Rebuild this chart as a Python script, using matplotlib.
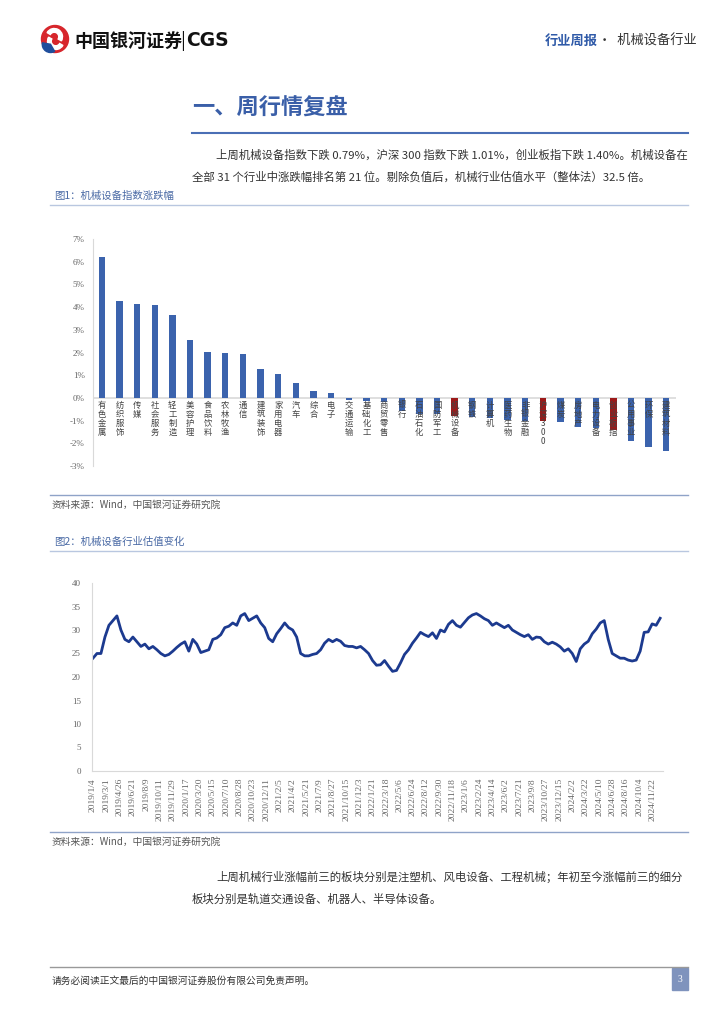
import numpy as np
import matplotlib
matplotlib.use('Agg')
import matplotlib.pyplot as plt
from matplotlib.patches import Rectangle, Circle, Wedge

plt.rcParams['font.family'] = ['Noto Sans CJK SC', 'DejaVu Sans']

# 图1 数据：申万一级行业 + 指数 周涨跌幅（%）
industries = ['有色金属', '纺织服饰', '传媒', '社会服务', '轻工制造', '美容护理', '食品饮料',
              '农林牧渔', '通信', '建筑装饰', '家用电器', '汽车', '综合', '电子', '交通运输',
              '基础化工', '商贸零售', '银行', '石油石化', '国防军工', '机械设备', '钢铁',
              '计算机', '医药生物', '非银金融', '沪深300', '煤炭', '房地产', '电力设备',
              '创业板指', '公用事业', '环保', '建筑材料']
weekly_chg = [6.19, 4.25, 4.13, 4.10, 3.63, 2.55, 2.02, 1.99, 1.92, 1.26, 1.07, 0.66, 0.31,
              0.22, -0.10, -0.12, -0.18, -0.59, -0.70, -0.73, -0.79, -0.85, -0.88, -0.97,
              -1.00, -1.01, -1.06, -1.27, -1.32, -1.40, -1.88, -2.17, -2.32]
highlight = ['机械设备', '沪深300', '创业板指']

# 图2 数据：机械设备行业 PE（整体法），按周
pe_values = [24.0, 25.0, 25.0, 28.5, 31.0, 32.0, 33.0, 30.0, 28.0, 27.5, 28.5, 27.5, 26.5,
             27.0, 26.0, 26.5, 25.8, 25.0, 24.5, 24.8, 25.5, 26.3, 27.0, 27.5, 25.5, 28.0,
             27.0, 25.2, 25.5, 25.8, 28.0, 28.3, 29.0, 30.5, 30.8, 31.5, 31.0, 33.0, 33.5,
             32.0, 32.5, 33.0, 31.5, 30.5, 28.2, 27.5, 29.2, 30.3, 31.5, 30.5, 30.0, 28.5,
             25.0, 24.5, 24.5, 24.8, 25.0, 25.8, 27.2, 28.0, 27.5, 28.0, 27.6, 26.7, 26.5,
             26.5, 26.2, 26.5, 25.8, 25.0, 23.5, 22.5, 22.6, 23.5, 22.3, 21.2, 21.4, 23.0,
             24.8, 25.8, 27.2, 28.3, 29.5, 29.0, 28.6, 29.4, 28.2, 30.0, 29.6, 31.2, 32.0,
             31.0, 30.6, 31.6, 32.6, 33.2, 33.5, 33.0, 32.4, 32.0, 31.0, 31.5, 31.0, 30.5,
             31.0, 30.0, 29.5, 29.0, 28.6, 29.0, 28.0, 28.5, 28.4, 27.5, 27.0, 27.4, 27.0,
             26.4, 25.5, 26.0, 25.0, 23.3, 26.0, 27.0, 27.6, 29.2, 30.2, 31.5, 32.0, 28.0,
             25.0, 24.5, 24.0, 24.0, 23.6, 23.4, 23.6, 25.5, 29.5, 29.6, 31.3, 31.0, 32.5]
date_labels = ['2019/1/4', '2019/3/1', '2019/4/26', '2019/6/21', '2019/8/9', '2019/10/11',
               '2019/11/29', '2020/1/17', '2020/3/20', '2020/5/15', '2020/7/10', '2020/8/28',
               '2020/10/23', '2020/12/11', '2021/2/5', '2021/4/2', '2021/5/21', '2021/7/9',
               '2021/8/27', '2021/10/15', '2021/12/3', '2022/1/21', '2022/3/18', '2022/5/6',
               '2022/6/24', '2022/8/12', '2022/9/30', '2022/11/18', '2023/1/6', '2023/2/24',
               '2023/4/14', '2023/6/2', '2023/7/21', '2023/9/8', '2023/10/27', '2023/12/15',
               '2024/2/2', '2024/3/22', '2024/5/10', '2024/6/28', '2024/8/16', '2024/10/4',
               '2024/11/22']

W, H = 724, 1024
BLUE = '#3b63ad'
RED = '#9c1a1a'
TXT = '#333333'
GRID = '#d9d9d9'


def fx(x):
    return x / W


def fy(y):
    return 1 - y / H


fig = plt.figure(figsize=(W / 100, H / 100), dpi=100)

# ---- 页眉 ----
logo = fig.add_axes([fx(40), fy(54), fx(30), 30 / H])
logo.set_xlim(-1, 1)
logo.set_ylim(-1, 1)
logo.set_aspect('equal')
logo.axis('off')
logo.add_patch(Circle((0, 0), 0.9, color='#d7262c'))
logo.add_patch(Wedge((0.05, -0.15), 0.55, 150, 330, width=0.25, color='white'))
logo.add_patch(Wedge((-0.05, 0.15), 0.55, -30, 150, width=0.25, color='white'))
logo.add_patch(Wedge((-0.3, -0.35), 0.55, 170, 300, color='#1f4e9c'))

fig.text(fx(74), fy(41), '中国银河证券', fontsize=13, fontweight='bold', color='#111111', va='center')
fig.text(fx(180), fy(41), '|', fontsize=13, color='#111111', va='center')
fig.text(fx(186), fy(41), 'CGS', fontsize=13.5, fontweight='bold', color='#111111', va='center',
         family=['DejaVu Sans'])
fig.text(fx(545), fy(41), '行业周报', fontsize=9.5, color='#2f5aa8', va='center', fontweight='bold')
fig.text(fx(598), fy(41), '·  机械设备行业', fontsize=9.5, color='#333333', va='center')

# ---- 标题与正文 ----
fig.text(fx(192), fy(108), '一、周行情复盘', fontsize=16, fontweight='bold', color='#3a5fa8', va='center')
fig.add_artist(plt.Line2D([fx(192), fx(688)], [fy(133), fy(133)], color='#4a6fb5', lw=1.5))
fig.text(fx(216), fy(155), '上周机械设备指数下跌 0.79%，沪深 300 指数下跌 1.01%，创业板指下跌 1.40%。机械设备在',
         fontsize=8.2, color=TXT, va='center')
fig.text(fx(192), fy(177), '全部 31 个行业中涨跌幅排名第 21 位。剔除负值后，机械行业估值水平（整体法）32.5 倍。',
         fontsize=8.2, color=TXT, va='center')

# ---- 图1 ----
fig.text(fx(54), fy(196), '图1：机械设备指数涨跌幅', fontsize=7.5, color='#4a6aa5', va='center')
fig.add_artist(plt.Line2D([fx(50), fx(688)], [fy(205), fy(205)], color='#b9c7e0', lw=1))

ax1 = fig.add_axes([fx(93), fy(466), fx(676 - 93), (466 - 239) / H])
pos = np.arange(len(industries))
colors = [RED if name in highlight else BLUE for name in industries]
ax1.bar(pos, weekly_chg, width=0.36, color=colors, zorder=2)
ax1.axhline(0, color=GRID, lw=1.2, zorder=1)
ax1.set_xlim(-0.5, len(industries) - 0.45)
ax1.set_ylim(-3, 7)
ax1.set_yticks(range(-3, 8))
ax1.set_yticklabels([f'{v}%' for v in range(-3, 8)], fontsize=6.5, color='#666666',
                    family=['Liberation Serif'])
ax1.set_xticks([])
ax1.tick_params(axis='y', length=0, pad=6)
for s in ['top', 'right', 'bottom']:
    ax1.spines[s].set_visible(False)
ax1.spines['left'].set_color(GRID)
for i, name in enumerate(industries):
    ax1.text(i, -0.12, '\n'.join(name), ha='center', va='top', fontsize=6,
             linespacing=1.0, color='#444444', zorder=3)

fig.add_artist(plt.Line2D([fx(50), fx(688)], [fy(495), fy(495)], color='#8fa3c8', lw=1))
fig.text(fx(52), fy(505), '资料来源：Wind，中国银河证券研究院', fontsize=7, color='#555555',
         va='center', style='italic')

# ---- 图2 ----
fig.text(fx(54), fy(542), '图2：机械设备行业估值变化', fontsize=7.5, color='#4a6aa5', va='center')
fig.add_artist(plt.Line2D([fx(50), fx(688)], [fy(551), fy(551)], color='#b9c7e0', lw=1))

ax2 = fig.add_axes([fx(92), fy(771), fx(663 - 92), (771 - 583) / H])
xs = np.linspace(0, 298, len(pe_values))
ax2.plot(xs, pe_values, color='#1c3a8f', lw=2)
ax2.set_xlim(-0.5, 299.5)
ax2.set_ylim(0, 40)
ax2.set_yticks(range(0, 41, 5))
ax2.set_yticklabels([str(v) for v in range(0, 41, 5)], fontsize=6.5, color='#666666',
                    family=['Liberation Serif'])
ax2.set_xticks(np.arange(len(date_labels)) * 7)
ax2.set_xticklabels(date_labels, rotation=90, fontsize=6.8, color='#666666',
                    family=['Liberation Serif'])
ax2.tick_params(length=0, pad=8)
ax2.tick_params(axis='x', pad=5)
for s in ['top', 'right']:
    ax2.spines[s].set_visible(False)
ax2.spines['left'].set_color(GRID)
ax2.spines['bottom'].set_color(GRID)

fig.add_artist(plt.Line2D([fx(50), fx(688)], [fy(832), fy(832)], color='#8fa3c8', lw=1))
fig.text(fx(52), fy(842), '资料来源：Wind，中国银河证券研究院', fontsize=7, color='#555555',
         va='center', style='italic')

fig.text(fx(216), fy(877), '上周机械行业涨幅前三的板块分别是注塑机、风电设备、工程机械；年初至今涨幅前三的细分',
         fontsize=8.2, color=TXT, va='center')
fig.text(fx(192), fy(899), '板块分别是轨道交通设备、机器人、半导体设备。', fontsize=8.2, color=TXT, va='center')

# ---- 页脚 ----
fig.add_artist(plt.Line2D([fx(50), fx(688)], [fy(967), fy(967)], color='#999999', lw=1))
fig.text(fx(52), fy(981), '请务必阅读正文最后的中国银河证券股份有限公司免责声明。', fontsize=7,
         color='#333333', va='center')
fig.add_artist(Rectangle((fx(672), fy(990)), fx(16), 22 / H, transform=fig.transFigure,
                         color='#7f93bd'))
fig.text(fx(680), fy(979), '3', fontsize=7, color='white', ha='center', va='center',
         family=['Liberation Serif'])

fig.savefig('out.png', dpi=100)
